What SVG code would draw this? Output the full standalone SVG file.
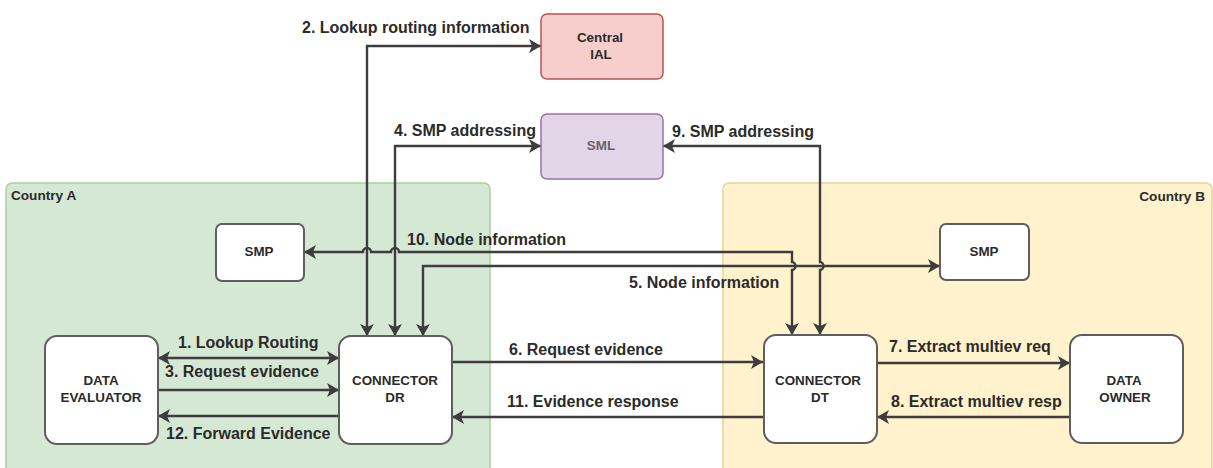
<svg xmlns="http://www.w3.org/2000/svg" width="1213" height="468" viewBox="0 0 1213 468">
<style>
text{font-family:"Liberation Sans",Arial,sans-serif;font-weight:bold;fill:#2b2b2b}
.l{font-size:16px}
.n{font-size:13.4px;text-anchor:middle}
.c{font-size:13.6px}
.box{fill:#fff;stroke:#5e5e5e;stroke-width:2}
.w{fill:none;stroke:#3d3d3d;stroke-width:2.4;}
</style>
<defs>
<marker id="a" markerUnits="userSpaceOnUse" markerWidth="16" markerHeight="16" refX="12" refY="7" orient="auto-start-reverse"><path d="M0 0L12 7L0 14L3 7Z" fill="#3d3d3d"/></marker>
</defs>
<g id="country-a"><rect x="6" y="183" width="484" height="295" rx="6" fill="#d5e8d4" stroke="#a9cf9f" stroke-width="1.5"/><text class="c" x="11" y="200">Country A</text></g>
<g id="country-b"><rect x="723" y="183" width="489" height="295" rx="6" fill="#fff2cc" stroke="#e5d596" stroke-width="1.5"/><text class="c" x="1205" y="201" text-anchor="end">Country B</text></g>
<g id="connectors">
<path class="w" marker-start="url(#a)" marker-end="url(#a)" d="M367 336V46H541"/>
<path class="w" marker-start="url(#a)" marker-end="url(#a)" d="M395 336V146H541"/>
<path class="w" marker-start="url(#a)" marker-end="url(#a)" d="M820 335V270A3.5 4 0 0 0 820 262V146H663"/>
<path class="w" marker-start="url(#a)" marker-end="url(#a)" d="M792 335V270A3.5 4 0 0 0 792 262V252H399A4 4 0 0 0 391 252H371A4 4 0 0 0 363 252H304"/>
<path class="w" marker-start="url(#a)" marker-end="url(#a)" d="M423 336V266H940"/>
<path class="w" marker-start="url(#a)" marker-end="url(#a)" d="M158 358H339"/>
<path class="w" marker-end="url(#a)" d="M158 390H339"/>
<path class="w" marker-end="url(#a)" d="M339 416H158"/>
<path class="w" marker-end="url(#a)" d="M452 362H763"/>
<path class="w" marker-end="url(#a)" d="M763 417H452"/>
<path class="w" marker-end="url(#a)" d="M877 363H1070"/>
<path class="w" marker-end="url(#a)" d="M1070 417H877"/>
</g>
<g id="labels">
<text class="l" x="302" y="33">2. Lookup routing information</text>
<text class="l" x="394" y="136">4. SMP addressing</text>
<text class="l" x="672" y="137">9. SMP addressing</text>
<text class="l" x="407" y="245">10. Node information</text>
<text class="l" x="629" y="288">5. Node information</text>
<text class="l" x="178" y="348">1. Lookup Routing</text>
<text class="l" x="165" y="377">3. Request evidence</text>
<text class="l" x="166" y="439">12. Forward Evidence</text>
<text class="l" x="509" y="355">6. Request evidence</text>
<text class="l" x="507" y="407">11. Evidence response</text>
<text class="l" x="889" y="352">7. Extract multiev req</text>
<text class="l" x="891" y="407">8. Extract multiev resp</text>
</g>
<g id="central-ial"><rect x="541" y="14" width="122" height="65" rx="6" fill="#f8cecc" stroke="#b85450" stroke-width="1.5"/><text class="n" x="600" y="42">Central</text><text class="n" x="601" y="59">IAL</text></g>
<g id="sml"><rect x="541" y="114" width="122" height="65" rx="6" fill="#e1d5e7" stroke="#9673a6" stroke-width="1.5"/><text class="n" x="601" y="150" style="fill:#666">SML</text></g>
<g id="smp-a"><rect class="box" x="216" y="224" width="88" height="57" rx="6"/><text class="n" x="259" y="256">SMP</text></g>
<g id="smp-b"><rect class="box" x="940" y="224" width="89" height="56" rx="6"/><text class="n" x="984" y="256">SMP</text></g>
<g id="data-evaluator"><rect class="box" x="45" y="336" width="113" height="108" rx="12"/><text class="n" x="101" y="385">DATA</text><text class="n" x="101" y="402">EVALUATOR</text></g>
<g id="connector-dr"><rect class="box" x="339" y="336" width="113" height="108" rx="12"/><text class="n" x="395" y="385">CONNECTOR</text><text class="n" x="395" y="402">DR</text></g>
<g id="connector-dt"><rect class="box" x="764" y="335" width="113" height="108" rx="12"/><text class="n" x="818" y="385">CONNECTOR</text><text class="n" x="820" y="402">DT</text></g>
<g id="data-owner"><rect class="box" x="1070" y="335" width="113" height="108" rx="12"/><text class="n" x="1124" y="385">DATA</text><text class="n" x="1125" y="402">OWNER</text></g>
</svg>
